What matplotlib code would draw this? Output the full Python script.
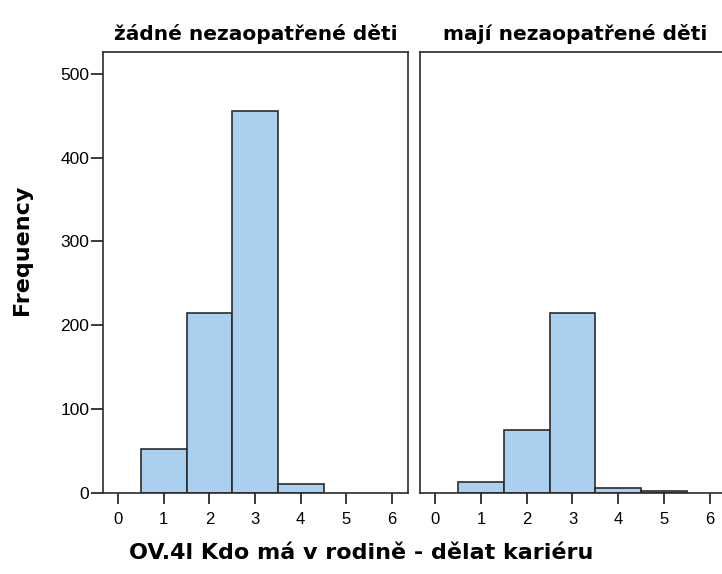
import matplotlib.pyplot as plt

plt.rcParams["font.family"] = ["Liberation Sans", "DejaVu Sans"]

categories = [1, 2, 3, 4, 5]
no_children = [52, 215, 456, 11, 0]
with_children = [13, 75, 215, 6, 2]
panel_titles = ["žádné nezaopatřené děti", "mají nezaopatřené děti"]

fig = plt.figure(figsize=(7.22, 5.74), dpi=100)
ax1 = fig.add_axes([0.1427, 0.1411, 0.4224, 0.7683])
ax2 = fig.add_axes([0.5817, 0.1411, 0.4300, 0.7683])

for ax, vals, title in [(ax1, no_children, panel_titles[0]),
                        (ax2, with_children, panel_titles[1])]:
    # empty bins are not drawn at all
    xs = [c for c, v in zip(categories, vals) if v > 0]
    hs = [v for v in vals if v > 0]
    ax.bar(xs, hs, width=1.0, color="#abcfee",
           edgecolor="#2b2b2b", linewidth=1.2)
    ax.set_xlim(-0.33, 6.35)
    ax.set_ylim(0, 526)
    ax.set_xticks(range(0, 7))
    ax.set_title(title, fontsize=14.5, fontweight="bold", pad=9,
                 family="DejaVu Sans")
    for s in ax.spines.values():
        s.set_linewidth(1.2)
        s.set_color("#2b2b2b")
    ax.tick_params(axis="x", length=8, width=1.3, pad=6, labelsize=12,
                   color="#2b2b2b", direction="out")
    ax.tick_params(axis="y", length=9, width=1.3, pad=1, labelsize=12.5,
                   color="#2b2b2b")

ax2.set_xlim(-0.33, 6.45)
ax1.set_yticks([0, 100, 200, 300, 400, 500])
ax2.set_yticks([])

fig.text(0.030, 0.564, "Frequency", fontsize=16, fontweight="bold",
         rotation=90, ha="center", va="center", family="DejaVu Sans")
fig.text(0.50, 0.037, "OV.4l Kdo má v rodině - dělat kariéru",
         fontsize=16, fontweight="bold", ha="center", va="center",
         family="DejaVu Sans")

fig.savefig("out.png", dpi=100)
